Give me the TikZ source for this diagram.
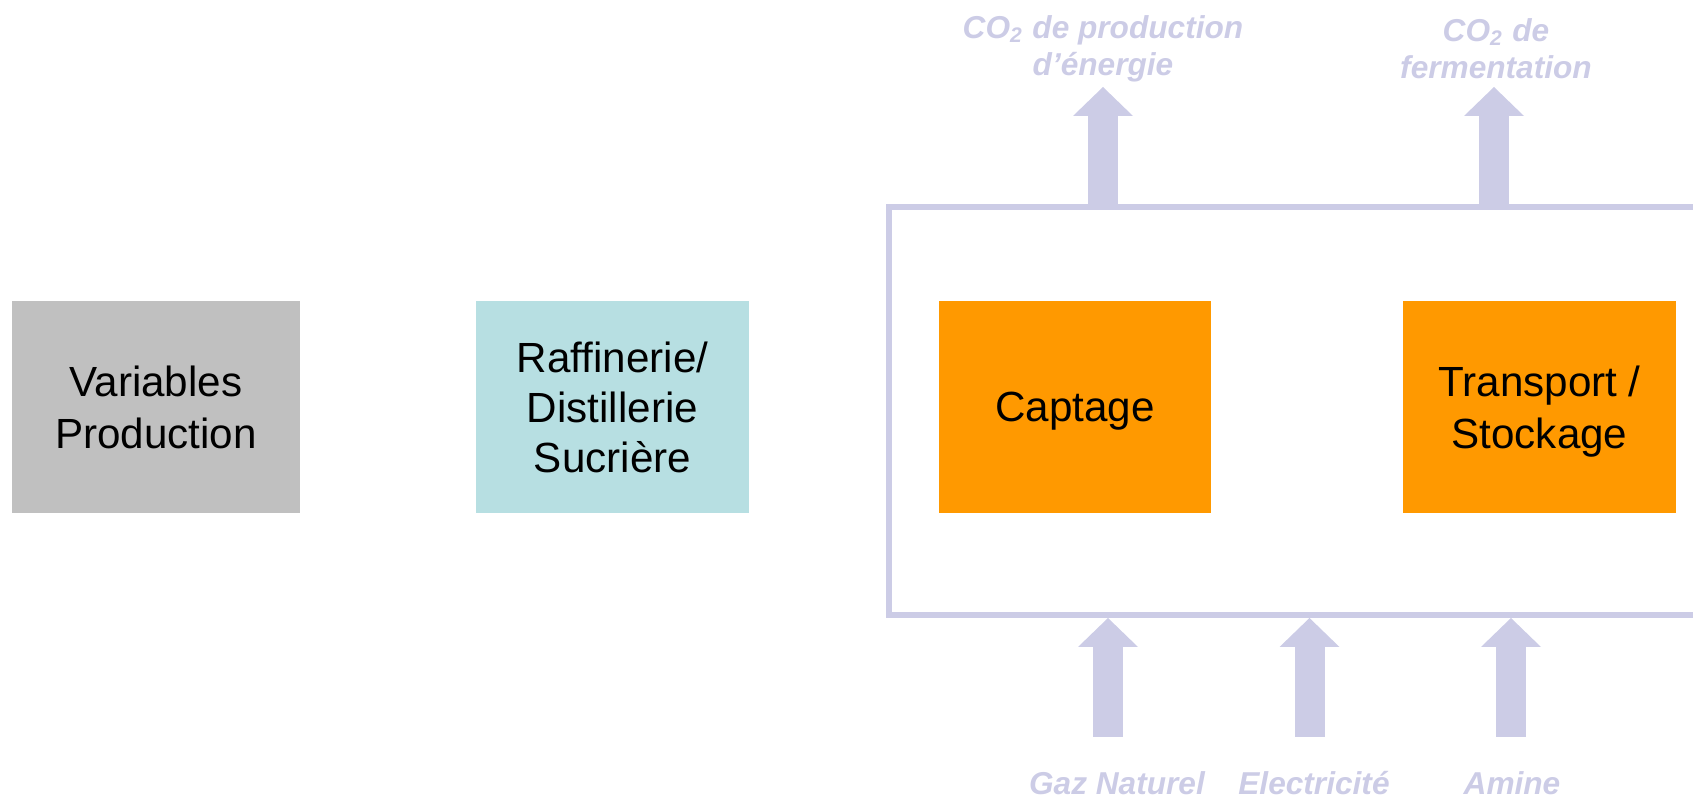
\documentclass[tikz,border=0pt]{standalone}
\usepackage{fontspec}
\setmainfont{Liberation Sans}
\usepackage{xcolor}
\usepackage{tikz}
\usetikzlibrary{arrows.meta, positioning}
\definecolor{variablegray}{RGB}{192, 192, 192}
\definecolor{raffinerieblue}{RGB}{183, 223, 226}
\definecolor{captageorange}{RGB}{255, 153, 0}
\definecolor{fluxlavender}{RGB}{204, 204, 230}

\begin{document}
\begin{tikzpicture}[
    etape/.style={minimum width=2.73cm, minimum height=2.12cm, inner sep=0pt, align=center,
          text depth=0pt, font=\fontsize{12}{14.8}\selectfont},
    flux/.style={text=fluxlavender, align=center, inner sep=0pt,
          font=\bfseries\itshape\fontsize{9}{10.6}\selectfont},
    fleche/.style={draw=fluxlavender, line width=0.3cm,
          -{Triangle[width=0.6cm, length=0.29cm, line width=0pt]}}
]
    \useasboundingbox (0,0) rectangle (16.93,7.99);

    % etapes de la chaine
    \node[etape, fill=variablegray, minimum width=2.88cm] (variables) at (1.56,3.92) {Variables\\Production};
    \node[etape, fill=raffinerieblue, font=\fontsize{12}{14.2}\selectfont] (raffinerie) at (6.125,3.92) {Raffinerie/\\Distillerie\\Sucrière};
    \node[draw=fluxlavender, line width=0.06cm, minimum width=8.21cm, minimum height=4.08cm,
          inner sep=0pt] (cadre) at (12.995,3.88) {};
    \node[etape, fill=captageorange, minimum width=2.72cm] (captage) at (10.75,3.92) {Captage};
    \node[etape, fill=captageorange] (transport) at (15.395,3.92) {Transport /\\Stockage};

    % emissions
    \node[flux] (energie) at (11.03,7.50) {CO\textsubscript{2} de production\\d’énergie};
    \node[flux] (fermentation) at (14.96,7.50) {CO\textsubscript{2} de\\fermentation};
    \coordinate (pointeA) at (11.03,7.12);
    \coordinate (pointeB) at (14.94,7.12);
    \draw[fleche] (pointeA |- cadre.north) -- (pointeA);
    \draw[fleche] (pointeB |- cadre.north) -- (pointeB);

    % intrants
    \node[flux, anchor=base] (gaz) at (11.17,0.05) {Gaz Naturel};
    \node[flux, anchor=base] (electricite) at (13.14,0.05) {Electricité};
    \node[flux, anchor=base] (amine) at (15.12,0.05) {Amine};
    \coordinate (piedA) at (11.08,0.62);
    \coordinate (piedB) at (13.095,0.62);
    \coordinate (piedC) at (15.11,0.62);
    \draw[fleche] (piedA) -- (piedA |- cadre.south);
    \draw[fleche] (piedB) -- (piedB |- cadre.south);
    \draw[fleche] (piedC) -- (piedC |- cadre.south);
\end{tikzpicture}
\end{document}
